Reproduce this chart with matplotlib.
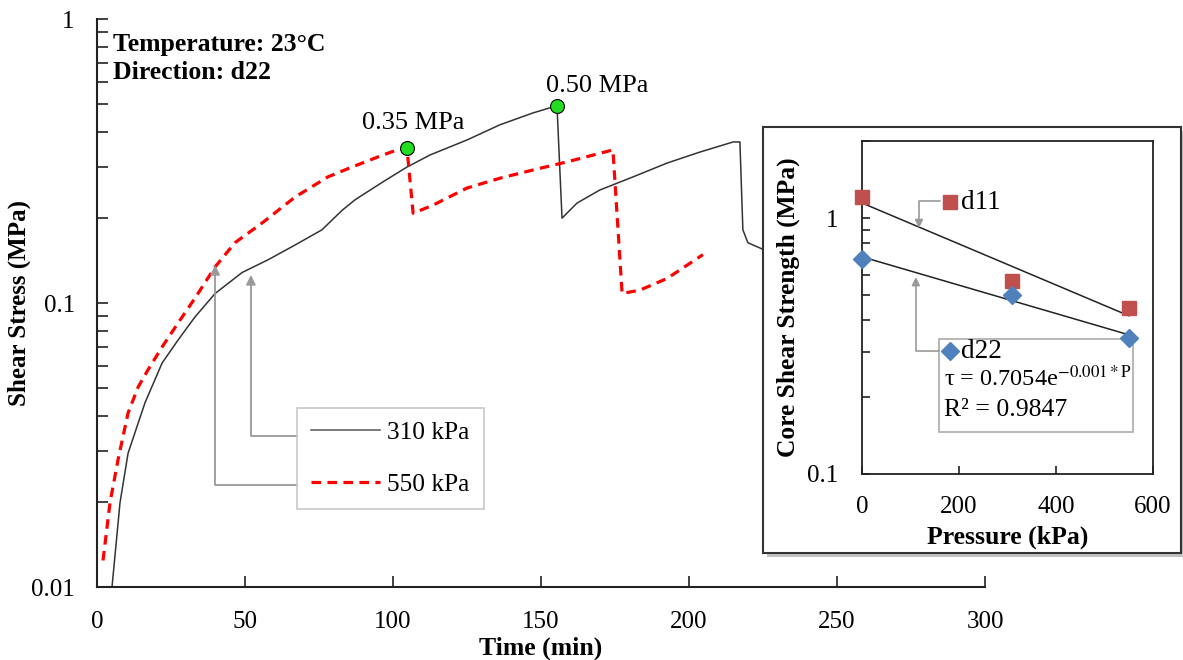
import numpy as np
import matplotlib
matplotlib.use("Agg")
import matplotlib.pyplot as plt
from matplotlib.patches import Rectangle
from matplotlib.ticker import LogLocator, NullFormatter, FixedLocator, FixedFormatter

plt.rcParams["font.family"] = ["Liberation Serif", "DejaVu Serif"]
plt.rcParams["mathtext.fontset"] = "stix"

# 310 kPa run (solid black)
t_310 = [5.07, 7.77, 10.5, 16.2, 22.0, 27.4, 33.1, 39.9, 49.0, 57.8, 66.9, 76.0,
         82.8, 87.2, 96.6, 104.7, 112.5, 125.0, 136.1, 147.3, 155.4,
         157.1, 162.2, 169.9, 181.1, 192.6, 203.7, 214.9, 217.2, 218.2, 219.9,
         224.7, 232.0]
s_310 = [0.0100, 0.0198, 0.0296, 0.0445, 0.0615, 0.0741, 0.0893, 0.108, 0.128,
         0.142, 0.160, 0.181, 0.212, 0.231, 0.267, 0.301, 0.332, 0.375, 0.424,
         0.467, 0.495, 0.199, 0.225, 0.250, 0.278, 0.311, 0.340,
         0.369, 0.369, 0.181, 0.163, 0.155, 0.152]

# 550 kPa run (dashed red)
t_550 = [2.03, 4.39, 7.09, 10.5, 13.9, 17.2, 22.0, 27.4, 33.1, 39.9, 46.6, 55.7,
         66.9, 78.0, 86.1, 96.6, 101.4, 104.7, 106.8, 113.5, 125.0, 136.1, 147.3,
         158.8, 174.3, 177.4, 183.4, 192.6, 204.7]
s_550 = [0.0124, 0.0198, 0.0280, 0.0410, 0.0506, 0.0581, 0.0700, 0.0851, 0.104,
         0.134, 0.163, 0.191, 0.236, 0.278, 0.301, 0.332, 0.346, 0.352, 0.207,
         0.221, 0.254, 0.275, 0.294, 0.314, 0.346, 0.108, 0.111, 0.122, 0.148]

peak_t = [104.7, 155.4]
peak_s = [0.352, 0.495]
peak_labels = ["0.35 MPa", "0.50 MPa"]

# inset: core shear strength vs pressure
pressure = [0, 310, 550]
d11 = [1.21, 0.57, 0.446]
d22 = [0.69, 0.50, 0.34]

W, H = 1183, 660
fig = plt.figure(figsize=(W / 100, H / 100), dpi=100)


def fx(px):
    return px / W


def fy(py):
    return 1 - py / H


ax = fig.add_axes([fx(97), fy(587), fx(985) - fx(97), fy(19) - fy(587)])
ax.plot(t_310, s_310, color="#333333", lw=1.1)
ax.plot(t_550, s_550, color="#ff0000", lw=2.3, ls=(0, (3, 2)))
ax.plot(peak_t, peak_s, "o", ms=10, mfc="#22dd22", mec="black", mew=0.8, zorder=5)
ax.annotate(peak_labels[0], (peak_t[0], peak_s[0]), xytext=(-32, 10),
            textcoords="offset points", fontsize=19, va="bottom")
ax.annotate(peak_labels[1], (peak_t[1], peak_s[1]), xytext=(-8, 6),
            textcoords="offset points", fontsize=19, va="bottom")

ax.set_yscale("log")
ax.set_xlim(0, 300)
ax.set_ylim(0.01, 1)
ax.set_xticks([0, 50, 100, 150, 200, 250, 300])
ax.yaxis.set_major_locator(FixedLocator([0.01, 0.1, 1]))
ax.yaxis.set_major_formatter(FixedFormatter(["0.01", "0.1", "1"]))
ax.yaxis.set_minor_locator(LogLocator(base=10, subs=np.arange(2, 10)))
ax.yaxis.set_minor_formatter(NullFormatter())
ax.tick_params(which="both", direction="in", labelsize=18, color="#222222", width=1.2,
               length=8)
ax.tick_params(axis="x", pad=17)
ax.tick_params(axis="y", pad=16)
for s in ("top", "right"):
    ax.spines[s].set_visible(False)
for s in ("left", "bottom"):
    ax.spines[s].set_linewidth(1.5)
    ax.spines[s].set_color("#222222")
ax.set_xlabel("Time (min)", fontsize=18.5, fontweight="bold", labelpad=3)
ax.set_ylabel("Shear Stress (MPa)", fontsize=18, fontweight="bold", labelpad=0)

ax.text(0.018, 0.975, "Temperature: 23°C\nDirection: d22", transform=ax.transAxes,
        fontsize=18.5, fontweight="bold", va="top", linespacing=1.25)

# legend box with callout arrows
gray = "#999999"
ax.add_patch(Rectangle((0.225, 0.137), 0.2106, 0.178, transform=ax.transAxes,
                       fill=False, ec="#c8c8c8", lw=1.2, zorder=4))
leg = ax.legend(["310 kPa", "550 kPa"], loc="center",
                bbox_to_anchor=(0.225, 0.137, 0.2106, 0.178), frameon=False,
                fontsize=18.3, handlelength=2.7, labelspacing=1.13, handletextpad=0.3)
leg.get_lines()[0].set_color("#555555")
for tip, corner in (((52.0, 0.1255), (67.6, 0.034)), ((39.9, 0.136), (67.6, 0.0229))):
    ax.annotate("", xy=tip, xytext=corner,
                arrowprops=dict(arrowstyle="-|>", color=gray, lw=1.3, shrinkA=0, shrinkB=0,
                                connectionstyle="angle,angleA=180,angleB=90,rad=0",
                                mutation_scale=14))

# inset frame with shadow
shadow = Rectangle((fx(767), fy(557)), fx(1183) - fx(763), fy(127) - fy(553),
                   transform=fig.transFigure, fc="#9a9a9a", ec="none", alpha=0.6, zorder=2)
frame = Rectangle((fx(763), fy(553)), fx(1181) - fx(763), fy(127) - fy(553),
                  transform=fig.transFigure, fc="white", ec="#333333", lw=1.5, zorder=2.1)
fig.add_artist(shadow)
fig.add_artist(frame)

ins = fig.add_axes([fx(862), fy(474), fx(1153) - fx(862), fy(141) - fy(474)], zorder=3)
ins.set_yscale("log")
ins.set_xlim(0, 600)
ins.set_ylim(0.1, 2.0)

pp = np.array([0, 550])
for vals in (d11, d22):
    k, b = np.polyfit(pressure, np.log(vals), 1)
    ins.plot(pp, np.exp(b + k * pp), color="#222222", lw=1.1)
ins.plot(pressure, d11, "s", ms=10, color="#c0504d", zorder=4, clip_on=False)
ins.plot(pressure, d22, "D", ms=9, color="#4f81bd", zorder=4, clip_on=False)

ins.set_xticks([0, 200, 400, 600])
ins.yaxis.set_major_locator(FixedLocator([0.1, 1]))
ins.yaxis.set_major_formatter(FixedFormatter(["0.1", "1"]))
ins.yaxis.set_minor_locator(LogLocator(base=10, subs=np.arange(2, 10)))
ins.yaxis.set_minor_formatter(NullFormatter())
ins.tick_params(which="both", direction="in", labelsize=18, length=6, width=1.2,
                color="#222222")
ins.tick_params(axis="x", pad=16)
ins.tick_params(axis="y", pad=17)
for s in ins.spines.values():
    s.set_linewidth(1.3)
    s.set_color("#222222")
ins.set_xlabel("Pressure (kPa)", fontsize=18.5, fontweight="bold", labelpad=5)
ins.set_ylabel("Core Shear Strength (MPa)", fontsize=18.4, fontweight="bold", labelpad=5)

# d11 callout
ins.plot([181], [1.155], "s", ms=10, color="#c0504d")
ins.text(204, 1.155, "d11", fontsize=19.5, va="center")
ins.annotate("", xy=(117.5, 0.914), xytext=(160, 1.165),
             arrowprops=dict(arrowstyle="-|>", color=gray, lw=1.2, shrinkA=0, shrinkB=0,
                             connectionstyle="angle,angleA=180,angleB=90,rad=0",
                             mutation_scale=12))

# d22 callout box
ins.add_patch(Rectangle((158.8, 0.146), 400, 0.337 - 0.146, fill=False, ec="#aaaaaa",
                        lw=1.2, zorder=3))
ins.annotate("", xy=(111, 0.588), xytext=(158.8, 0.302),
             arrowprops=dict(arrowstyle="-|>", color=gray, lw=1.2, shrinkA=0, shrinkB=0,
                             connectionstyle="angle,angleA=180,angleB=90,rad=0",
                             mutation_scale=12))
ins.plot([181], [0.302], "D", ms=9, color="#4f81bd")
ins.text(204, 0.302, "d22", fontsize=19.5, va="center")
ins.text(170, 0.237, r"τ = 0.7054e$^{\mathrm{-0.001*P}}$", fontsize=17.5, va="center")
ins.text(170, 0.178, "R² = 0.9847", fontsize=18.5, va="center")

fig.savefig("out.png", dpi=100)
